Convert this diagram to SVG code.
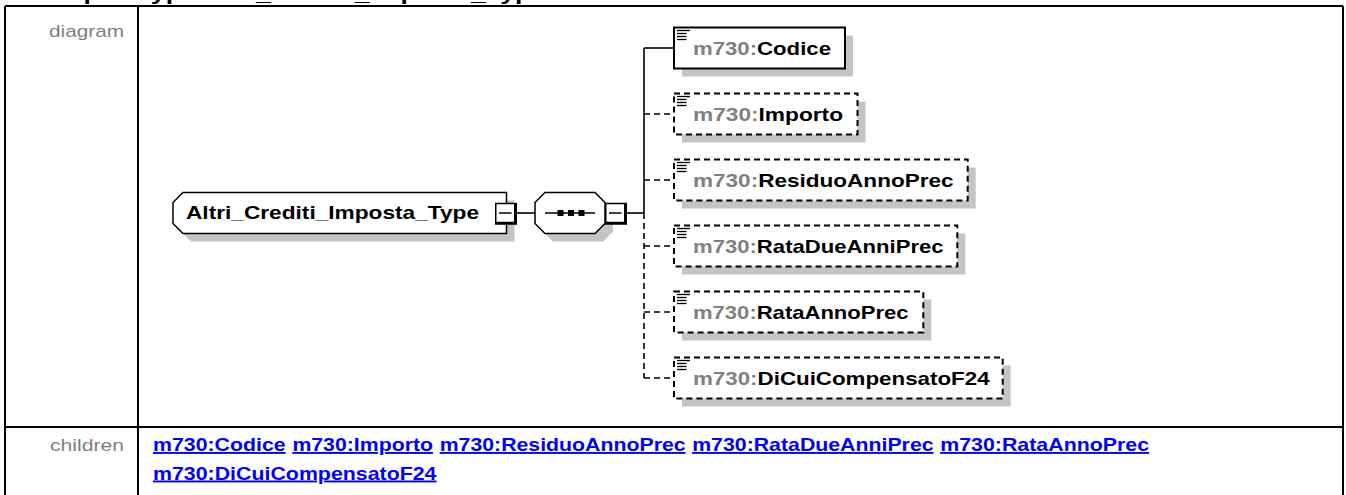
<svg xmlns="http://www.w3.org/2000/svg" width="1346" height="495" viewBox="0 0 1346 495">
<style>
.tbl{fill:none;stroke:#000;stroke-width:2}
.ttl{font-family:"Liberation Sans",Arial,sans-serif;font-size:21px;font-weight:bold;fill:#000}
.lbl{font-family:"Liberation Sans",Arial,sans-serif;font-size:17px;fill:#808080}
.lnk{font-family:"Liberation Sans",Arial,sans-serif;font-size:19px;font-weight:bold;fill:#0000ff;text-decoration:underline}
.shd{fill:#c4c4c4}
.nbox{fill:#fff;stroke:#000;stroke-width:1.5}
.sbox{fill:#fff;stroke:#000;stroke-width:2}
.dbox{fill:#fff;stroke:#000;stroke-width:2;stroke-dasharray:6 4}
.nm{font-family:"Liberation Sans",Arial,sans-serif;font-size:19px;font-weight:bold;fill:#000}
.pfx{fill:#808080}
.con{fill:none;stroke:#000;stroke-width:1.6}
.cond{fill:none;stroke:#000;stroke-width:1.6;stroke-dasharray:6 4}
.ico{stroke:#000;stroke-width:1.3}
</style>
<defs>
<g id="minus">
<rect x="0" y="0" width="22" height="22" fill="#000"/>
<rect x="1.5" y="1.5" width="17.5" height="17.5" fill="#fff"/>
<line x1="4" y1="10.25" x2="16.5" y2="10.25" stroke="#000" stroke-width="1.5"/>
</g>
<g id="icon">
<line class="ico" x1="3" y1="3" x2="16" y2="3"/>
<line class="ico" x1="3" y1="6" x2="12.5" y2="6"/>
<line class="ico" x1="3" y1="9" x2="12.5" y2="9"/>
<line class="ico" x1="3" y1="12" x2="12.5" y2="12"/>
</g>
</defs>
<rect width="1346" height="495" fill="#fff"/>
<text class="ttl" x="29" y="0" textLength="517" lengthAdjust="spacingAndGlyphs">complexType Altri_Crediti_Imposta_Type</text>
<g id="table">
<path class="tbl" d="M5 6H1343M5 6V500M138 6V500M1343 6V500M5 427H1343"/>
<text class="lbl" x="49" y="37" textLength="75" lengthAdjust="spacingAndGlyphs">diagram</text>
<text class="lbl" x="50" y="451" textLength="74" lengthAdjust="spacingAndGlyphs">children</text>
<text class="lnk" x="153" y="451" textLength="132.6" lengthAdjust="spacingAndGlyphs">m730:Codice</text>
<text class="lnk" x="292.4" y="451" textLength="140.6" lengthAdjust="spacingAndGlyphs">m730:Importo</text>
<text class="lnk" x="439.7" y="451" textLength="245.9" lengthAdjust="spacingAndGlyphs">m730:ResiduoAnnoPrec</text>
<text class="lnk" x="692.2" y="451" textLength="241.4" lengthAdjust="spacingAndGlyphs">m730:RataDueAnniPrec</text>
<text class="lnk" x="940.2" y="451" textLength="208.9" lengthAdjust="spacingAndGlyphs">m730:RataAnnoPrec</text>
<text class="lnk" x="153" y="479.5" textLength="283.5" lengthAdjust="spacingAndGlyphs">m730:DiCuiCompensatoF24</text>
</g>
<g id="connectors">
<line class="con" x1="517" y1="213" x2="535" y2="213"/>
<line class="con" x1="627" y1="213" x2="644" y2="213"/>
<line class="con" x1="644" y1="48" x2="644" y2="213"/>
<line class="cond" x1="644" y1="213" x2="644" y2="378"/>
<line class="con" x1="644" y1="48" x2="674" y2="48"/>
<line class="cond" x1="644" y1="114" x2="674" y2="114"/>
<line class="cond" x1="644" y1="180" x2="674" y2="180"/>
<line class="cond" x1="644" y1="246" x2="674" y2="246"/>
<line class="cond" x1="644" y1="312" x2="674" y2="312"/>
<line class="cond" x1="644" y1="378" x2="674" y2="378"/>
</g>
<g id="root">
<polygon class="shd" points="191,200.5 514.5,200.5 514.5,241.5 191,241.5 181,231.5 181,210.5"/>
<polygon class="nbox" points="183,192.5 506.5,192.5 506.5,233.5 183,233.5 173,223.5 173,202.5"/>
<text class="nm" x="186" y="219" textLength="293" lengthAdjust="spacingAndGlyphs">Altri_Crediti_Imposta_Type</text>
<use href="#minus" x="495" y="202.75"/>
</g>
<g id="sequence">
<polygon class="shd" points="553,200.5 603,200.5 613,210.5 613,231.5 603,241.5 553,241.5 543,231.5 543,210.5"/>
<polygon class="nbox" points="545,192.5 595,192.5 605,202.5 605,223.5 595,233.5 545,233.5 535,223.5 535,202.5"/>
<line x1="545" y1="213" x2="595" y2="213" stroke="#000" stroke-width="1.5"/>
<rect x="557.5" y="210" width="6" height="6" fill="#000"/>
<rect x="568" y="210" width="6" height="6" fill="#000"/>
<rect x="578.5" y="210" width="6" height="6" fill="#000"/>
<use href="#minus" x="605" y="202.75"/>
</g>
<g id="codice">
<rect class="shd" x="682" y="35.5" width="171" height="41"/>
<rect class="sbox" x="674" y="27.5" width="171" height="41"/>
<use href="#icon" x="674" y="27.5"/>
<text class="nm" x="693" y="54.5" textLength="138" lengthAdjust="spacingAndGlyphs"><tspan class="pfx">m730:</tspan>Codice</text>
</g>
<g id="importo">
<rect class="shd" x="682" y="101.5" width="183.5" height="41"/>
<rect class="dbox" x="674" y="93.5" width="183.5" height="41"/>
<use href="#icon" x="674" y="93.5"/>
<text class="nm" x="693" y="120.5" textLength="150" lengthAdjust="spacingAndGlyphs"><tspan class="pfx">m730:</tspan>Importo</text>
</g>
<g id="residuo">
<rect class="shd" x="682" y="167.5" width="293.7" height="41"/>
<rect class="dbox" x="674" y="159.5" width="293.7" height="41"/>
<use href="#icon" x="674" y="159.5"/>
<text class="nm" x="693" y="186.5" textLength="260.6" lengthAdjust="spacingAndGlyphs"><tspan class="pfx">m730:</tspan>ResiduoAnnoPrec</text>
</g>
<g id="ratadue">
<rect class="shd" x="682" y="233.5" width="283.3" height="41"/>
<rect class="dbox" x="674" y="225.5" width="283.3" height="41"/>
<use href="#icon" x="674" y="225.5"/>
<text class="nm" x="693" y="252.5" textLength="250.6" lengthAdjust="spacingAndGlyphs"><tspan class="pfx">m730:</tspan>RataDueAnniPrec</text>
</g>
<g id="rataanno">
<rect class="shd" x="682" y="299.5" width="249.3" height="41"/>
<rect class="dbox" x="674" y="291.5" width="249.3" height="41"/>
<use href="#icon" x="674" y="291.5"/>
<text class="nm" x="693" y="318.5" textLength="215.6" lengthAdjust="spacingAndGlyphs"><tspan class="pfx">m730:</tspan>RataAnnoPrec</text>
</g>
<g id="dicui">
<rect class="shd" x="682" y="365.5" width="328.7" height="41"/>
<rect class="dbox" x="674" y="357.5" width="328.7" height="41"/>
<use href="#icon" x="674" y="357.5"/>
<text class="nm" x="693" y="384.5" textLength="296.6" lengthAdjust="spacingAndGlyphs"><tspan class="pfx">m730:</tspan>DiCuiCompensatoF24</text>
</g>
</svg>
